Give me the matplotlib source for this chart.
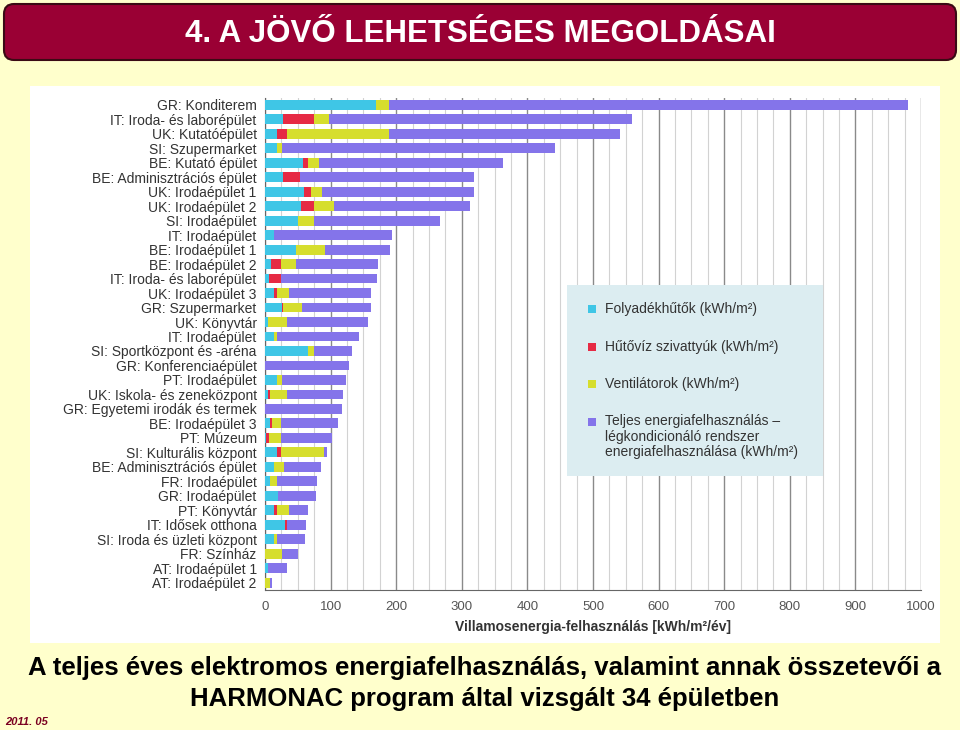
import numpy as np
import matplotlib
matplotlib.use("Agg")
import matplotlib.pyplot as plt
from matplotlib.patches import FancyBboxPatch, Rectangle

#
# --- Data (kWh/m2/year), top to bottom
#
buildings = [
    "GR: Konditerem", "IT: Iroda- és laborépület", "UK: Kutatóépület",
    "SI: Szupermarket", "BE: Kutató épület", "BE: Adminisztrációs épület",
    "UK: Irodaépület 1", "UK: Irodaépület 2", "SI: Irodaépület",
    "IT: Irodaépület", "BE: Irodaépület 1", "BE: Irodaépület 2",
    "IT: Iroda- és laborépület", "UK: Irodaépület 3", "GR: Szupermarket",
    "UK: Könyvtár", "IT: Irodaépület", "SI: Sportközpont és -aréna",
    "GR: Konferenciaépület", "PT: Irodaépület", "UK: Iskola- és zeneközpont",
    "GR: Egyetemi irodák és termek", "BE: Irodaépület 3", "PT: Múzeum",
    "SI: Kulturális központ", "BE: Adminisztrációs épület", "FR: Irodaépület",
    "GR: Irodaépület", "PT: Könyvtár", "IT: Idősek otthona",
    "SI: Iroda és üzleti központ", "FR: Színház", "AT: Irodaépület 1",
    "AT: Irodaépület 2",
]
chillers = [169, 28, 18, 18, 58, 27, 60, 55, 51, 13, 48, 9, 6, 14, 26, 4, 14,
            66, 0, 18, 4, 0, 8, 2, 19, 14, 8, 20, 14, 30, 13, 0, 5, 0]
pumps = [0, 46, 15, 0, 7, 27, 10, 19, 0, 0, 0, 15, 18, 4, 2, 0, 0,
         0, 0, 0, 3, 0, 3, 4, 5, 0, 0, 0, 4, 4, 0, 0, 0, 0]
fans = [20, 23, 156, 8, 18, 0, 17, 31, 23, 0, 43, 23, 0, 18, 29, 30, 4,
        9, 0, 8, 27, 0, 13, 18, 66, 15, 11, 0, 18, 0, 5, 26, 0, 7]
totals = [980, 560, 541, 442, 363, 318, 318, 313, 267, 193, 191, 173, 170,
          162, 162, 157, 144, 132, 128, 124, 119, 117, 112, 102, 94, 86, 79,
          78, 65, 63, 61, 51, 34, 10]

legend_labels = [
    "Folyadékhűtők (kWh/m²)",
    "Hűtővíz szivattyúk (kWh/m²)",
    "Ventilátorok (kWh/m²)",
    "Teljes energiafelhasználás –\nlégkondicionáló rendszer\nenergiafelhasználása (kWh/m²)",
]
x_ticks = np.arange(0, 1001, 100)

#
# --- Style
#
COLORS = ["#3fc6e6", "#e62a44", "#d6de2e", "#8474ea"]
SLIDE_BG = "#ffffcc"
TEXT_GRAY = "#333333"
plt.rcParams["font.family"] = ["Liberation Sans", "DejaVu Sans"]

W, H = 960, 730
fig = plt.figure(figsize=(W / 100, H / 100), dpi=100, facecolor=SLIDE_BG)

#
# --- Background layer in pixel coordinates
#
bg = fig.add_axes([0, 0, 1, 1], zorder=0)
bg.set_xlim(0, W)
bg.set_ylim(H, 0)
bg.axis("off")
bg.add_patch(FancyBboxPatch((4, 4), 952, 56,
                            boxstyle="round,pad=0,rounding_size=10",
                            facecolor="#9a0034", edgecolor="#3b0a14", lw=1.5))
bg.text(480, 34, "4. A JÖVŐ LEHETSÉGES MEGOLDÁSAI", color="white",
        fontsize=22.5, fontweight="bold", ha="center", va="center")
bg.add_patch(Rectangle((30, 86), 910, 557, facecolor="white", edgecolor="none"))
bg.text(485, 668, "A teljes éves elektromos energiafelhasználás, valamint annak összetevői a",
        fontsize=18.5, fontweight="bold", ha="center", va="center")
bg.text(485, 699, "HARMONAC program által vizsgált 34 épületben",
        fontsize=18.5, fontweight="bold", ha="center", va="center")
bg.text(5, 722, "2011. 05", fontsize=8, fontweight="bold", style="italic",
        color="#7a0020", ha="left", va="center")

#
# --- Stacked bar chart
#
ax = fig.add_axes([265 / W, 1 - 590 / H, (921 - 265) / W, (590 - 97.5) / H],
                  zorder=1)
ax.patch.set_alpha(0)
y = np.arange(len(buildings))
rest = np.array(totals) - np.array(chillers) - np.array(pumps) - np.array(fans)
left = np.zeros(len(buildings))
for vals, col in zip([chillers, pumps, fans, rest], COLORS):
    ax.barh(y, vals, left=left, height=0.68, color=col, zorder=3)
    left += np.array(vals)

ax.set_ylim(len(buildings) - 0.5, -0.5)
ax.set_xlim(0, 1000)
ax.set_yticks(y)
ax.set_yticklabels(buildings, fontsize=10, color=TEXT_GRAY)
ax.set_xticks(x_ticks)
ax.set_xticklabels([str(t) for t in x_ticks], fontsize=9.5, color="#555555")
ax.set_xticks(np.arange(0, 1001, 25), minor=True)
ax.tick_params(axis="x", which="both", length=0, pad=8)
ax.tick_params(axis="y", which="both", length=0, pad=6)
ax.grid(axis="x", which="minor", color="#d2d2d2", lw=0.8, zorder=1)
ax.grid(axis="x", which="major", color="#8a8a8a", lw=1.0, zorder=1)
ax.grid(axis="y", visible=False)
for side in ["top", "right"]:
    ax.spines[side].set_visible(False)
for side in ["left", "bottom"]:
    ax.spines[side].set_color("#666666")
ax.set_xlabel("Villamosenergia-felhasználás [kWh/m²/év]", fontsize=10,
              fontweight="bold", color=TEXT_GRAY, labelpad=5)

#
# --- Legend panel on top of the chart
#
top = fig.add_axes([0, 0, 1, 1], zorder=2)
top.set_xlim(0, W)
top.set_ylim(H, 0)
top.axis("off")
top.add_patch(Rectangle((567, 285), 256, 191, facecolor="#dcedf1",
                        edgecolor="none"))
for label, col, ypos in zip(legend_labels, COLORS, [309, 347, 384, 422]):
    top.add_patch(Rectangle((588, ypos - 4), 8, 8, facecolor=col,
                            edgecolor="none"))
    if "\n" in label:
        top.text(605, ypos - 7.5, label, fontsize=10, color=TEXT_GRAY,
                 ha="left", va="top", linespacing=1.12)
    else:
        top.text(605, ypos, label, fontsize=10, color=TEXT_GRAY,
                 ha="left", va="center")

fig.savefig("out.png", dpi=100, facecolor=SLIDE_BG)
